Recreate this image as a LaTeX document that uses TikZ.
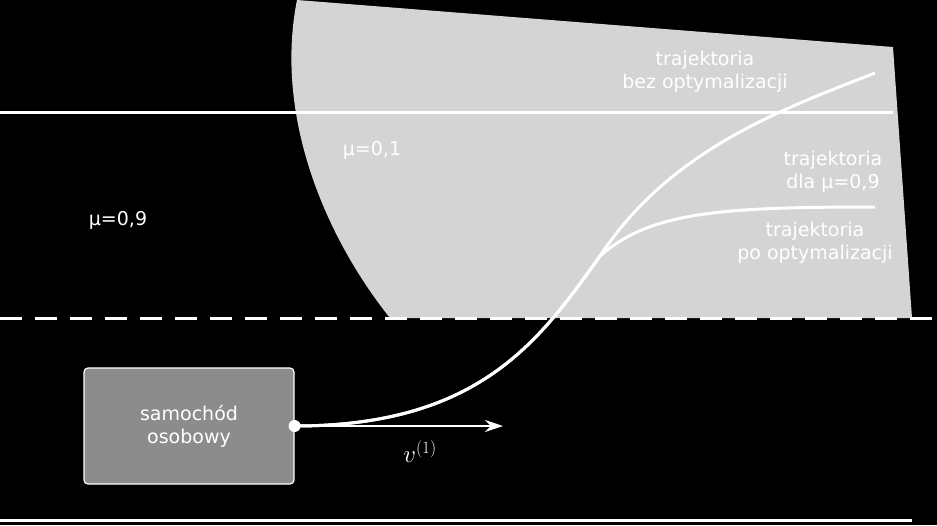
\documentclass[tikz,border=0pt]{standalone}
\usepackage{fontspec}
\setmainfont{DejaVu Sans}
\usetikzlibrary{arrows.meta}
\begin{document}
\begin{tikzpicture}[x=1pt,y=-1pt,
  lbl/.style={text=white,font=\fontsize{19}{23}\selectfont,align=center,inner sep=0pt},
  wl/.style={white,line width=3pt}]
\fill[black] (0,0) rectangle (937,525);
\useasboundingbox (0,0) rectangle (937,525);
\fill[black!17] (297,0) .. controls (275,110) and (320,230) .. (390,318) -- (912,318) -- (893,47) -- cycle;
\draw[wl] (0,112) -- (893,112);
\draw[wl,dash pattern=on 22pt off 13pt] (0,318) -- (937,318);
\draw[wl] (0,520) -- (912,520);
\node[lbl] (t1) at (705,72) {trajektoria\\bez optymalizacji};
\node[lbl] (m1) at (372,150) {μ=0,1};
\node[lbl] (t2) at (833,172) {trajektoria\\dla μ=0,9};
\node[lbl] (t3) at (815,243) {trajektoria\\po optymalizacji};
\node[lbl] (m9) at (118,220) {μ=0,9};
\node[draw=white,fill=black!45,line width=1.2pt,rounded corners=4pt,minimum width=210pt,minimum height=116pt,lbl] (car) at (189,426) {samochód\\osobowy};
\coordinate (s) at (car.east);
\coordinate (e1) at (875,73);
\coordinate (e2) at (875,207);
\coordinate (ve) at (503,426);
\coordinate (m) at (600,256);
\draw[wl] (s) .. controls (480,426) and (540,340) .. (m) .. controls (670,150) and (780,110) .. (e1);
\draw[wl] (s) .. controls (480,426) and (540,340) .. (m) .. controls (650,212) and (720,207) .. (e2);
\draw[white,line width=2pt,-{Stealth[length=18pt,width=12pt]}] (s) -- (ve);
\fill[white] (s) circle (6pt);
\node[lbl,font=\fontsize{24}{28}\selectfont] (v) at (420,452) {$v^{(1)}$};
\end{tikzpicture}
\end{document}
